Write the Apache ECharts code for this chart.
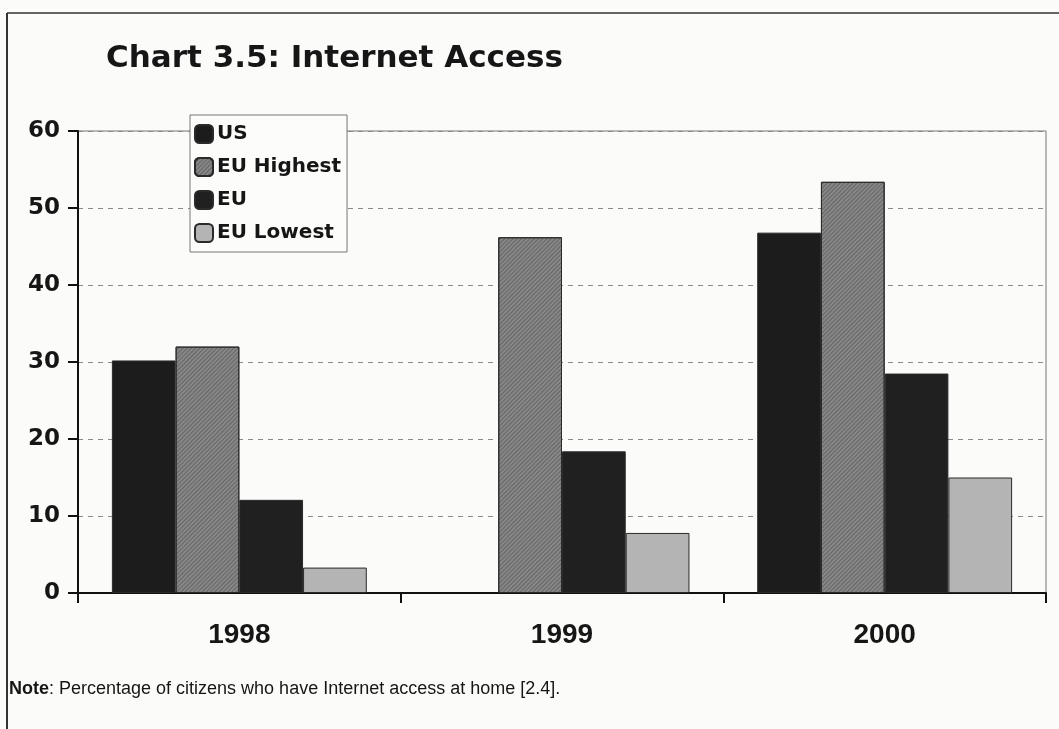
<!DOCTYPE html>
<html>
<head>
<meta charset="utf-8">
<script src="https://cdn.jsdelivr.net/npm/echarts@6/dist/echarts.min.js"></script>
<style>
html,body{margin:0;padding:0;background:#fbfbf9;}
#c{width:1059px;height:729px;}
</style>
</head>
<body>
<div id="c"></div>
<script>
var categories = ['1998', '1999', '2000'];
var seriesNames = ['US', 'EU Highest', 'EU', 'EU Lowest'];
var usValues = [30.2, null, 46.8];
var euHighestValues = [32.0, 46.2, 53.4];
var euValues = [12.1, 18.4, 28.5];
var euLowestValues = [3.3, 7.8, 15.0];
var yTicks = [0, 10, 20, 30, 40, 50, 60];

var chart = echarts.init(document.getElementById('c'), null, {renderer: 'canvas'});
var hatch = {
  symbol: 'rect', symbolSize: 1, dashArrayX: [[1, 0]], dashArrayY: [1, 2],
  rotation: -Math.PI / 4, color: 'rgba(50,50,50,0.4)'
};
function mk(name, data, color, decal) {
  var s = {
    name: name, type: 'bar', data: data, barGap: '0%', barCategoryGap: '21%',
    itemStyle: {color: color, borderColor: '#2a2a2a', borderWidth: 1},
    emphasis: {disabled: true}
  };
  if (decal) s.itemStyle.decal = decal;
  return s;
}
chart.setOption({
  backgroundColor: '#fbfbf9',
  animation: false,
  title: {
    text: 'Chart 3.5: Internet Access', left: 101, top: 38,
    textStyle: {fontFamily: 'DejaVu Sans', fontWeight: 'bold', fontSize: 31, color: '#161616'}
  },
  legend: {
    data: seriesNames, orient: 'vertical', left: 190, top: 115,
    backgroundColor: '#fcfcfa', borderColor: '#777', borderWidth: 1,
    padding: [9, 6, 9, 4], itemGap: 13, itemWidth: 18, itemHeight: 18,
    icon: 'roundRect',
    textStyle: {fontFamily: 'DejaVu Sans', fontWeight: 'bold', fontSize: 20, color: '#161616', padding: [0, 0, 0, -1]}
  },
  grid: {left: 78, right: 13, top: 131, bottom: 136, show: true, borderColor: '#777', borderWidth: 1, backgroundColor: 'transparent'},
  xAxis: {
    type: 'category', data: categories,
    axisLine: {lineStyle: {color: '#111', width: 2}},
    axisTick: {show: true, length: 10, lineStyle: {color: '#111', width: 2}},
    axisLabel: {margin: 28, fontFamily: 'Liberation Sans', fontWeight: 'bold', fontSize: 28, color: '#161616'}
  },
  yAxis: {
    type: 'value', min: yTicks[0], max: yTicks[yTicks.length - 1], interval: 10,
    axisLine: {show: true, lineStyle: {color: '#111', width: 2}},
    axisTick: {show: true, length: 10, lineStyle: {color: '#111', width: 2}},
    splitLine: {show: true, lineStyle: {color: '#8a8a8a', type: [5, 5], width: 1}},
    axisLabel: {margin: 18, fontFamily: 'DejaVu Sans', fontWeight: 'bold', fontSize: 23, color: '#161616'}
  },
  series: [
    mk(seriesNames[0], usValues, '#1c1c1c'),
    mk(seriesNames[1], euHighestValues, '#878787', hatch),
    mk(seriesNames[2], euValues, '#202020'),
    mk(seriesNames[3], euLowestValues, '#b4b4b4')
  ],
  graphic: [
    {type: 'line', shape: {x1: 7, y1: 13, x2: 7, y2: 729}, style: {stroke: '#333', lineWidth: 2}},
    {type: 'line', shape: {x1: 7, y1: 13, x2: 1059, y2: 13}, style: {stroke: '#333', lineWidth: 1.5}},
    {type: 'text', left: 9, top: 680, style: {
      text: '{b|Note}: Percentage of citizens who have Internet access at home [2.4].',
      rich: {b: {fontFamily: 'Liberation Sans', fontWeight: 'bold', fontSize: 18, fill: '#161616'}},
      fontFamily: 'Liberation Sans', fontSize: 18, fill: '#161616'
    }}
  ]
});
</script>
</body>
</html>
